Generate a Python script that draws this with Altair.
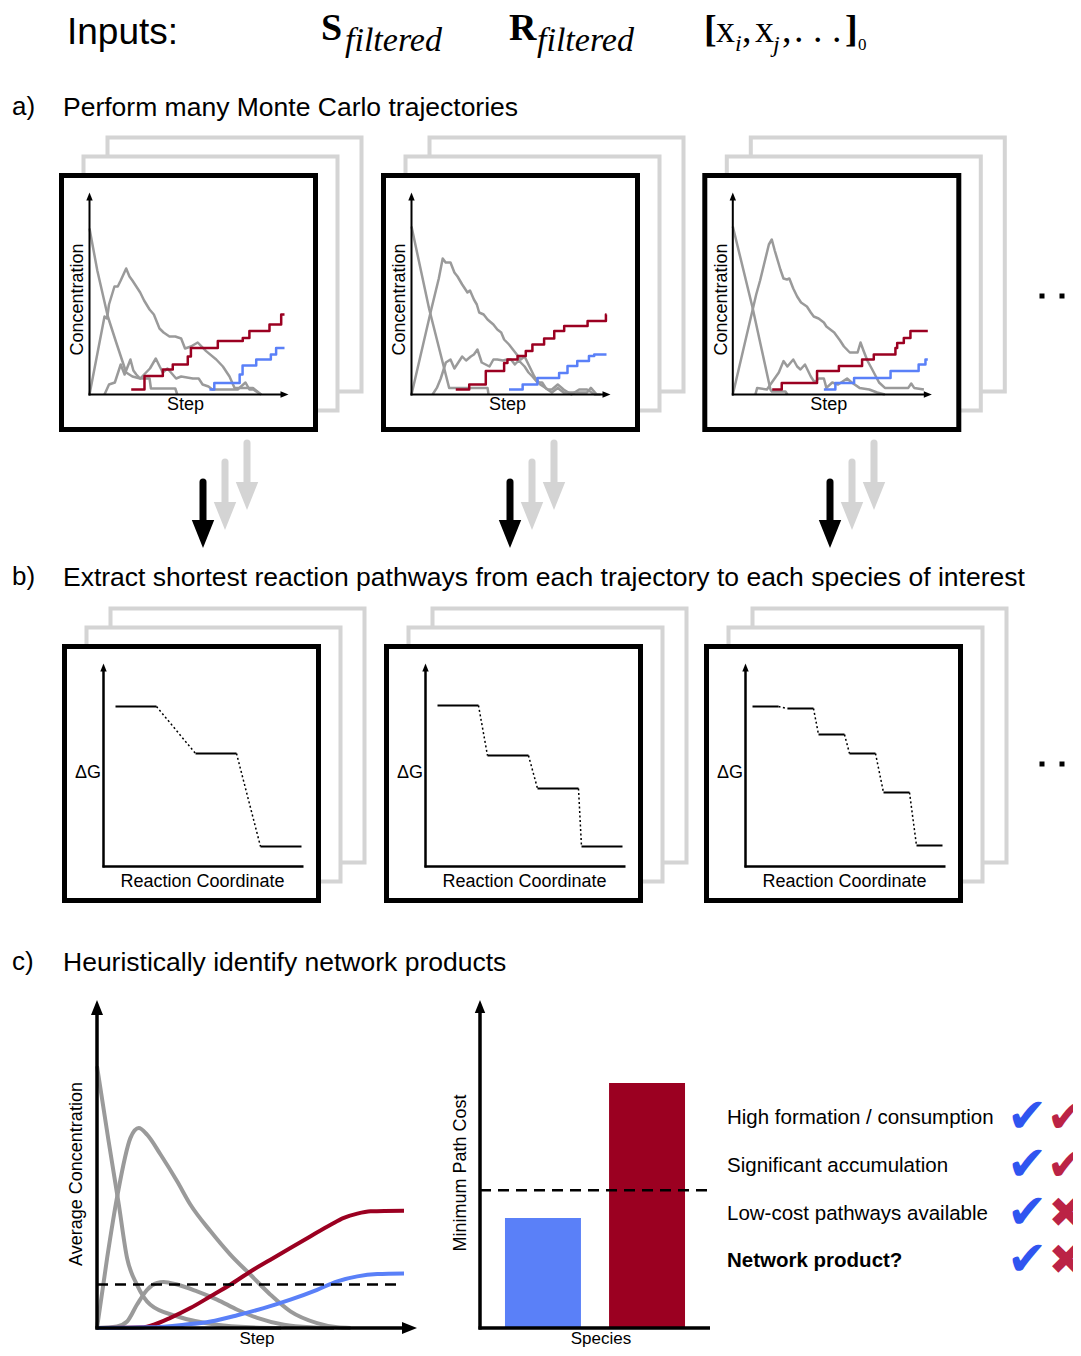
import altair as alt
import pandas as pd

# ================= colours / fonts (style) =================
RED = "#9b0021"
BLUE = "#5a80f8"
GRAY = "#9a9a9a"
LIGHT = "#d4d4d4"
CHECK_BLUE = "#2f55f0"
CHECK_RED = "#bb2345"
SANS = "Liberation Sans"
SERIF = "Liberation Serif"
SYMBOL_FONT = "DejaVu Sans"

# ================= data =================
# a) Monte Carlo trajectories: step (0-100) vs concentration (0-100)
MC1_GRAY = {
    "A": ([0, 4, 9.4, 13.7, 18.8, 22, 26, 30.8, 31.5, 44, 45],
          [83, 62, 39, 26, 11, 9, 8, 8, 3, 3, 0]),
    "B": ([0, 7.7, 9, 10, 12.8, 14.5, 16, 18.8, 20.5, 22, 24, 26, 28, 30.8, 33, 35.9, 38, 41, 44, 47,
           49, 52, 55.5, 59.8, 65, 68.4, 71.8, 74.4, 83.8, 88],
          [0, 39, 38, 45, 54, 54, 57, 63, 59, 57, 54, 51, 47, 42.5, 40, 33, 31, 29, 29, 28,
           23, 24, 26, 21.7, 17.5, 14, 9, 3.3, 3.3, 0]),
    "C": ([7.7, 10, 13, 16, 18, 21, 22.5, 24, 26, 28, 31, 34, 36, 37.6, 40, 44.4, 47, 53, 56, 58,
           61, 63, 66, 70, 76, 80, 82, 84, 88],
          [0, 5, 6, 15, 10, 17.5, 12, 10, 8, 10, 13, 18, 14, 11, 13, 8, 9, 8, 8, 5,
           4, 2.5, 2.5, 2.5, 2.5, 6, 2.5, 2.5, 0]),
}
MC1_RED = ([21.4, 28.2, 37.6, 42.7, 50.4, 52, 65.8, 78.6, 82, 92.3, 98.3, 100],
           [2.5, 9.2, 12.5, 15, 19, 23.3, 26.7, 28.3, 31.7, 35, 40, 40])
MC1_BLUE = ([61.5, 64, 77, 78.5, 85.5, 93, 95.7, 100],
            [2.5, 5.8, 10, 14.5, 17.5, 20, 23.3, 23.3])

MC2_GRAY = {
    "A": ([0, 9, 16, 19.3, 39, 39.5], [84, 43, 16, 3.3, 3.3, 0]),
    "B": ([0, 5, 10, 14, 16, 17.5, 20, 22, 23.6, 26, 28.7, 30, 32, 33.5, 34.7, 37, 39, 42, 44, 46,
           47.5, 50, 52.6, 56, 58, 60, 63, 66, 70, 72, 75, 78, 82, 86, 90, 94, 97],
          [0, 21, 42, 58, 68, 66, 66, 61, 59, 55, 51, 52, 47.5, 45, 41, 40, 37.5, 35, 32.5, 31,
           27.5, 25, 21.7, 17.5, 19, 15, 9, 5, 2.5, 2.5, 5, 2.5, 0, 2.5, 2.5, 0, 0]),
    "C": ([10.8, 13, 15, 17.6, 20, 22, 24, 26, 28, 30.4, 32, 33.8, 35, 36, 38, 40, 42, 44, 47, 49,
           51, 53, 55, 58, 60, 62, 64.6, 67, 69, 72, 75, 78, 80, 85, 90, 92, 95],
          [0, 3.3, 8, 16, 17.5, 13, 16, 19, 17, 19, 20, 22.5, 19, 16, 15, 14, 17.5, 17.5, 17, 17.5,
           17.5, 15, 17, 14, 11, 9, 6, 6, 3, 1, 3.3, 1, 1, 1, 1, 3.3, 0]),
}
MC2_RED = ([22.7, 29.6, 38.1, 47.5, 49.2, 54.4, 58.6, 62, 68, 73.2, 78.3, 90.3, 99.7, 100],
           [2.5, 5, 11.7, 15.8, 17.5, 19.2, 21.7, 25, 28, 31.7, 34.2, 36.7, 40, 40])
MC2_BLUE = ([50, 57, 64.6, 75.7, 80, 85, 91, 93.7, 100],
            [2.5, 5, 8.3, 10.8, 14.2, 16.7, 19.2, 20, 20])

MC3_GRAY = {
    "A": ([0, 10, 19.3, 20, 27, 28], [84, 44, 2.5, 1.5, 1.5, 0]),
    "B": ([0, 6, 12, 14, 16, 18.5, 20, 21.5, 24.4, 26, 27.8, 29, 31, 33, 35, 38, 40, 41.5, 44, 46.7,
           48, 50, 52, 53.5, 55, 57, 60, 62, 64, 65.5, 67, 69, 71.5, 75, 78, 85, 90, 91.5, 93, 98],
          [0, 25, 50, 57, 65, 75, 77.5, 72, 62.5, 58, 57.5, 58, 53, 49, 46, 44, 41, 39, 38, 36,
           34, 32.5, 31, 29, 27, 24, 21, 21, 21, 26, 22, 17, 12.5, 6, 3.3, 3.3, 3.3, 5.5, 3.3, 2.5]),
    "C": ([11.6, 12.5, 17.5, 20, 23.6, 26, 28, 31, 33, 34.7, 37, 40, 42, 44, 46.7, 48, 51, 54, 58.6, 61,
           65, 70, 74, 78],
          [0, 3.3, 2.5, 6, 11, 16.7, 14, 17.5, 14, 12.5, 15, 9, 6, 8, 8, 3.3, 6, 5, 8, 6,
           3.3, 2.5, 1, 0]),
}
MC3_RED = ([20.2, 25.1, 43.2, 54.4, 66.3, 72.3, 83.4, 84.3, 87.7, 91.1, 100],
           [2.5, 5.8, 11.7, 14.2, 17.5, 20, 23.3, 25.8, 28.3, 31.7, 31.7])
MC3_BLUE = ([46.7, 52.6, 62.2, 80.9, 95.3, 98.8, 100],
            [2.5, 5.8, 8.3, 11.7, 15, 17.5, 17.5])

# b) shortest pathways: reaction-coordinate start of each level and its ΔG
PATH1_RC = [12, 92, 157]
PATH1_DG = [160, 113, 20]
PATH2_RC = [12, 62, 112, 156]
PATH2_DG = [161, 111, 78, 20]
PATH3_RC = [7, 42, 73, 104, 138, 171]
PATH3_DG = [160, 158, 132, 113, 74, 21]
PATH_LEVEL_LEN = [41, 41, 26]

# c) average concentration vs step
AVG_GRAY = {
    "A": ([0, 3.8, 7.1, 9.8, 13, 17.4, 26, 39, 50, 60],
          [80.1, 57.1, 37.8, 21.4, 13.3, 7.1, 3.6, 1.0, 0.2, 0]),
    "B": ([0, 3.3, 6.5, 10.9, 13.6, 16.3, 20.7, 26.1, 30.4, 37, 43.5, 50, 56.5, 63, 71.7, 78.3, 82.6],
          [0, 21.4, 39.8, 58.2, 61.2, 59.2, 53.1, 44.9, 37.8, 29.6, 22.4, 16.3, 10.2, 5.1, 1.5, 0.2, 0]),
    "C": ([0, 6.5, 9.8, 13, 16.3, 19.6, 21.7, 26.1, 32.6, 39.1, 45.7, 52.2, 60.9, 69.6, 77.2],
          [0, 0.5, 2.0, 7.1, 11.7, 13.8, 14.1, 13.3, 11.2, 8.7, 5.6, 3.1, 1.0, 0.2, 0]),
}
AVG_RED = ([0, 15.2, 18.5, 23.9, 30.4, 37, 43.5, 50, 56.5, 63, 69.6, 76.1, 80.4, 84.8, 89.1, 100],
           [0, 0.2, 1.0, 3.1, 6.1, 9.7, 13.3, 17.3, 20.9, 24.5, 28.1, 31.6, 33.7, 35.0, 35.7, 35.9])
AVG_BLUE = ([0, 17.4, 28.3, 37, 45.7, 54.3, 63, 71.7, 78.3, 84.8, 91.3, 100],
            [0, 0.2, 1.0, 2.0, 3.9, 6.1, 8.7, 11.7, 14.3, 15.8, 16.5, 16.7])
CONC_THRESHOLD = 13.3

SPECIES = ["blue species", "red species"]
MIN_PATH_COST = [33.7, 75.0]
COST_THRESHOLD = 42.2

CRITERIA = ["High formation / consumption", "Significant accumulation",
            "Low-cost pathways available", "Network product?"]
VERDICT_BLUE = ["✔", "✔", "✔", "✔"]
VERDICT_RED = ["✔", "✔", "✖", "✖"]

TITLES = ["Perform many Monte Carlo trajectories",
          "Extract shortest reaction pathways from each trajectory to each species of interest",
          "Heuristically identify network products"]
TITLE_TAGS = ["a)", "b)", "c)"]

# ================= layout (page pixels) =================
M = 8
CW, CH = 1065, 1340
A_FRONT = [(61.5, 175.5), (383.5, 175.5), (704.8, 175.5)]
B_FRONT = [(64.5, 646.5), (386.5, 646.5), (706.5, 646.5)]
FRAME = 254
MID_OFF = (22, -19)
BACK_OFF = (46, -38)
A_ORIGIN = (28, 219)
A_SPAN = (195, 200)
A_TIP = (227, 17)
B_ORIGIN = (39, 220)
B_TIP_Y = 17
B_XEND = 239
C1_ORIGIN = (97, 1328)
C1_SPAN = (307, 326.7)
C1_TIP = (417, 1000)
C2_ORIGIN = (480, 1328)
C2_XEND = 710
C2_TIP_Y = 1000
DROP_X = [203, 510, 830]
DOT_X = [1042, 1062, 1078]
DOT_Y = [296, 764]
TITLE_Y = [108, 578, 963]
ROW_Y = [1118, 1166, 1214, 1261]
CHECK_X = (1027, 1066)
CRIT_X = 727
BOTTOM_BASELINE = 1344
ROT_SHIFT = 0.08   # fraction of font size to nudge rotated labels right

UP = "M0,-1L0.8,1L-0.8,1Z"
RIGHT = "M1,0L-1,0.8L-1,-0.8Z"
DOWN = "M-0.8,-1L0.8,-1L0,1Z"


def lin(d0, d1, p0, p1):
    return alt.Scale(domain=[d0, d1], range=[p0 - M, p1 - M], nice=False, zero=False)


def cx(f):
    return alt.X(f"{f}:Q", scale=lin(0, 1081, 0, 1081), axis=None)


def cy(f):
    return alt.Y(f"{f}:Q", scale=lin(0, 1356, 0, 1356), axis=None)


def rect_layer(rows, stroke, width):
    return alt.Chart(pd.DataFrame(rows)).mark_rect(fill="white", stroke=stroke, strokeWidth=width).encode(
        x=cx("x"), x2=alt.X2("x2"), y=cy("y"), y2=alt.Y2("y2"))


def rule_layer(rows, color, width, dash=None, cap="butt"):
    kw = dict(color=color, strokeWidth=width, strokeCap=cap)
    if dash:
        kw["strokeDash"] = dash
    return alt.Chart(pd.DataFrame(rows)).mark_rule(**kw).encode(
        x=cx("x"), y=cy("y"), x2=alt.X2("x2"), y2=alt.Y2("y2"))


def head_layer(rows, color, shape, size):
    return alt.Chart(pd.DataFrame(rows)).mark_point(
        shape=shape, size=size, filled=True, color=color, opacity=1, strokeWidth=0
    ).encode(x=cx("x"), y=cy("y"))


def series_frame(named):
    rows = []
    for name, (xs, ys) in named.items():
        assert len(xs) == len(ys), name
        for i, (a, b) in enumerate(zip(xs, ys)):
            rows.append({"sid": name, "i": i, "u": a, "v": b})
    return pd.DataFrame(rows)


def line_layer(df, xs, ys, color=None, width=2.5, interp="linear"):
    mk = dict(strokeWidth=width, interpolate=interp, strokeJoin="round")
    enc = dict(x=alt.X("u:Q", scale=xs, axis=None), y=alt.Y("v:Q", scale=ys, axis=None),
               detail="sid:N", order="i:Q")
    if color:
        mk["color"] = color
    else:
        enc["color"] = alt.Color("col:N", scale=None)
    return alt.Chart(df).mark_line(**mk).encode(**enc)


def products(red, blue):
    df = series_frame({"red": red, "blue": blue})
    df["col"] = df["sid"].map({"red": RED, "blue": BLUE})
    return df


def text_layer(rows, font, weight="normal", style="normal", align="left", baseline="middle"):
    df = pd.DataFrame(rows, columns=["t", "x", "y", "fs", "ang", "col"])
    df["x"] = df["x"] + (ROT_SHIFT * df["fs"]).where(df["ang"] != 0, 0)
    return alt.Chart(df).mark_text(font=font, fontWeight=weight, fontStyle=style,
                                   align=align, baseline=baseline).encode(
        x=cx("x"), y=cy("y"), text=alt.Text("t:N"),
        size=alt.Size("fs:Q", scale=None), angle=alt.Angle("ang:Q", scale=None),
        color=alt.Color("col:N", scale=None))


L = []

# ---------- stacked frames ----------
gray_rows, front_rows = [], []
for off in (BACK_OFF, MID_OFF):
    for fx, fy in A_FRONT + B_FRONT:
        gray_rows.append(dict(x=fx + off[0], y=fy + off[1], x2=fx + off[0] + FRAME, y2=fy + off[1] + FRAME))
for fx, fy in A_FRONT + B_FRONT:
    front_rows.append(dict(x=fx, y=fy, x2=fx + FRAME, y2=fy + FRAME))
L.append(rect_layer(gray_rows, LIGHT, 4))
L.append(rect_layer(front_rows, "black", 5))

# ---------- big down arrows ----------
g_shaft, g_head, k_shaft, k_head = [], [], [], []
for x in DROP_X:
    g_shaft += [dict(x=x + 44, y=443, x2=x + 44, y2=484), dict(x=x + 22, y=462, x2=x + 22, y2=503)]
    g_head += [dict(x=x + 44, y=496), dict(x=x + 22, y=516)]
    k_shaft.append(dict(x=x, y=482, x2=x, y2=522))
    k_head.append(dict(x=x, y=534))
L.append(rule_layer(g_shaft, LIGHT, 7, cap="round"))
L.append(head_layer(g_head, LIGHT, DOWN, 784))
L.append(rule_layer(k_shaft, "black", 7, cap="round"))
L.append(head_layer(k_head, "black", DOWN, 784))

# ---------- ellipsis dots ----------
L.append(alt.Chart(pd.DataFrame([dict(x=x, y=y) for y in DOT_Y for x in DOT_X])).mark_point(
    shape="square", size=25, filled=True, color="black", opacity=1, strokeWidth=0
).encode(x=cx("x"), y=cy("y")))

# ---------- a) trajectory panels ----------
MC_PANELS = [(MC1_GRAY, MC1_RED, MC1_BLUE), (MC2_GRAY, MC2_RED, MC2_BLUE), (MC3_GRAY, MC3_RED, MC3_BLUE)]
a_rules, a_up, a_right = [], [], []
for (fx, fy), (grays, red, blue) in zip(A_FRONT, MC_PANELS):
    ox, oy = fx + A_ORIGIN[0], fy + A_ORIGIN[1]
    xs = lin(0, 100, ox, ox + A_SPAN[0])
    ys = lin(0, 100, oy, oy - A_SPAN[1])
    L.append(line_layer(series_frame(grays), xs, ys, color=GRAY, width=2.5))
    L.append(line_layer(products(red, blue), xs, ys, width=2.5, interp="step-after"))
    a_rules += [dict(x=ox, y=oy + 1, x2=ox, y2=fy + A_TIP[1] + 4),
                dict(x=ox - 1, y=oy, x2=fx + A_TIP[0] - 4, y2=oy)]
    a_up.append(dict(x=ox, y=fy + A_TIP[1] + 4))
    a_right.append(dict(x=fx + A_TIP[0] - 4, y=oy))
L.append(rule_layer(a_rules, "black", 2))
L.append(head_layer(a_up, "black", UP, 64))
L.append(head_layer(a_right, "black", RIGHT, 64))

# ---------- b) pathway panels ----------
b_rules, b_up = [], []
for (fx, fy), rc, dg, w in zip(B_FRONT, [PATH1_RC, PATH2_RC, PATH3_RC],
                               [PATH1_DG, PATH2_DG, PATH3_DG], PATH_LEVEL_LEN):
    ox, oy = fx + B_ORIGIN[0], fy + B_ORIGIN[1]
    xs = lin(0, 200, ox, ox + 200)
    ys = lin(0, 200, oy, oy - 200)
    lv = pd.DataFrame({"r0": rc, "r1": [r + w for r in rc], "g": dg})
    L.append(alt.Chart(lv).mark_rule(color="black", strokeWidth=2).encode(
        x=alt.X("r0:Q", scale=xs, axis=None), x2=alt.X2("r1"), y=alt.Y("g:Q", scale=ys, axis=None)))
    cn = pd.DataFrame({"r0": [r + w for r in rc[:-1]], "g0": dg[:-1], "r1": rc[1:], "g1": dg[1:]})
    L.append(alt.Chart(cn).mark_rule(color="black", strokeWidth=1.5, strokeDash=[2, 2.5]).encode(
        x=alt.X("r0:Q", scale=xs, axis=None), y=alt.Y("g0:Q", scale=ys, axis=None),
        x2=alt.X2("r1"), y2=alt.Y2("g1")))
    b_rules += [dict(x=ox, y=oy + 1, x2=ox, y2=fy + B_TIP_Y + 4),
                dict(x=ox - 1, y=oy, x2=fx + B_XEND, y2=oy)]
    b_up.append(dict(x=ox, y=fy + B_TIP_Y + 4))
L.append(rule_layer(b_rules, "black", 2.5))
L.append(head_layer(b_up, "black", UP, 64))

# ---------- c) average concentration ----------
xs = lin(0, 100, C1_ORIGIN[0], C1_ORIGIN[0] + C1_SPAN[0])
ys = lin(0, 100, C1_ORIGIN[1], C1_ORIGIN[1] - C1_SPAN[1])
L.append(line_layer(series_frame(AVG_GRAY), xs, ys, color=GRAY, width=4, interp="monotone"))
L.append(line_layer(products(AVG_RED, AVG_BLUE), xs, ys, width=4, interp="monotone"))
thr = pd.DataFrame({"u0": [0], "u1": [99.5], "v": [CONC_THRESHOLD]})
L.append(alt.Chart(thr).mark_rule(color="black", strokeWidth=2.5, strokeDash=[11, 7]).encode(
    x=alt.X("u0:Q", scale=xs, axis=None), x2=alt.X2("u1"), y=alt.Y("v:Q", scale=ys, axis=None)))

# ---------- c) minimum path cost bars ----------
band = alt.Scale(type="band", domain=SPECIES, range=[C2_ORIGIN[0] - M, C2_XEND - M],
                 paddingInner=0.27, paddingOuter=0.24)
bary = lin(0, 100, C2_ORIGIN[1], C2_ORIGIN[1] - C1_SPAN[1])
bars = pd.DataFrame({"species": SPECIES, "cost": MIN_PATH_COST, "col": [BLUE, RED]})
L.append(alt.Chart(bars).mark_bar().encode(
    x=alt.X("species:N", scale=band, axis=None),
    y=alt.Y("cost:Q", scale=bary, axis=None, stack=None),
    color=alt.Color("col:N", scale=None)))
cthr = pd.DataFrame({"x0": [C2_ORIGIN[0]], "x1": [C2_XEND + 2], "cost": [COST_THRESHOLD]})
L.append(alt.Chart(cthr).mark_rule(color="black", strokeWidth=2.5, strokeDash=[11, 7]).encode(
    x=cx("x0"), x2=alt.X2("x1"), y=alt.Y("cost:Q", scale=bary, axis=None)))

# c axes
c_rules = [dict(x=C1_ORIGIN[0], y=C1_ORIGIN[1] + 1.5, x2=C1_ORIGIN[0], y2=C1_TIP[1] + 8),
           dict(x=C1_ORIGIN[0] - 1.5, y=C1_ORIGIN[1], x2=C1_TIP[0] - 8, y2=C1_ORIGIN[1]),
           dict(x=C2_ORIGIN[0], y=C2_ORIGIN[1] + 1.5, x2=C2_ORIGIN[0], y2=C2_TIP_Y + 7),
           dict(x=C2_ORIGIN[0] - 1.5, y=C2_ORIGIN[1], x2=C2_XEND, y2=C2_ORIGIN[1])]
L.append(rule_layer(c_rules, "black", 3.5))
L.append(head_layer([dict(x=C1_ORIGIN[0], y=C1_TIP[1] + 7.5)], "black", UP, 225))
L.append(head_layer([dict(x=C1_TIP[0] - 7.5, y=C1_ORIGIN[1])], "black", RIGHT, 225))
L.append(head_layer([dict(x=C2_ORIGIN[0], y=C2_TIP_Y + 6.5)], "black", UP, 169))

# ---------- texts ----------
left_rows = [("Inputs:", 67, 33, 37, 0, "black")]
for tag, title, ty in zip(TITLE_TAGS, TITLES, TITLE_Y):
    left_rows.append((tag, 12, ty - 1, 26, 0, "black"))
    left_rows.append((title, 63, ty, 26.5, 0, "black"))
for crit, ry in zip(CRITERIA[:3], ROW_Y[:3]):
    left_rows.append((crit, CRIT_X, ry, 20.5, 0, "black"))
L.append(text_layer(left_rows, SANS))
L.append(text_layer([(CRITERIA[3], CRIT_X, ROW_Y[3], 20.5, 0, "black")], SANS, weight="bold"))

center_rows = []
for fx, fy in A_FRONT:
    center_rows.append(("Concentration", fx + 15.5, fy + 124, 18, 270, "black"))
    center_rows.append(("Step", fx + 124, fy + 229.5, 18, 0, "black"))
for fx, fy in B_FRONT:
    center_rows.append(("ΔG", fx + 23.5, fy + 126.5, 18, 0, "black"))
    center_rows.append(("Reaction Coordinate", fx + 138, fy + 235.5, 18, 0, "black"))
center_rows += [("Average Concentration", 76, 1174, 18, 270, "black"),
                ("Minimum Path Cost", 460, 1173, 18, 270, "black")]
L.append(text_layer(center_rows, SANS, align="center"))
L.append(text_layer([("Step", 257, BOTTOM_BASELINE, 17, 0, "black"),
                     ("Species", 601, BOTTOM_BASELINE, 17, 0, "black")],
                    SANS, align="center", baseline="alphabetic"))

# header formulas (serif)
L.append(text_layer([("S", 321, 40, 38, 0, "black"), ("R", 509, 40, 38, 0, "black"),
                     ("[", 704, 42, 38, 0, "black"), ("]", 845, 42, 38, 0, "black")],
                    SERIF, weight="bold", baseline="alphabetic"))
L.append(text_layer([("filtered", 345, 51, 34, 0, "black"), ("filtered", 537, 51, 34, 0, "black"),
                     ("i", 735, 51, 24, 0, "black"), ("j", 773, 52, 24, 0, "black")],
                    SERIF, style="italic", baseline="alphabetic"))
L.append(text_layer([("x", 716, 42, 38, 0, "black"), (",", 742, 42, 38, 0, "black"),
                     ("x", 755, 42, 38, 0, "black"), (",", 782, 42, 38, 0, "black"),
                     (". . .", 794, 42, 38, 0, "black"), ("0", 858, 50, 17, 0, "black")],
                    SERIF, baseline="alphabetic"))

# verdict symbols
sym_rows = []
for b, r, ry in zip(VERDICT_BLUE, VERDICT_RED, ROW_Y):
    sym_rows.append((b, CHECK_X[0], ry, 48, 0, CHECK_BLUE))
    sym_rows.append((r, CHECK_X[1], ry, 46 if r == "✔" else 42, 0, CHECK_RED))
L.append(text_layer(sym_rows, SYMBOL_FONT, align="center"))

chart = alt.layer(*L).resolve_scale(x="independent", y="independent").properties(
    width=CW, height=CH, padding=0, autosize=alt.AutoSizeParams(type="none"), background="white"
).configure_view(stroke=None)

chart.save("out.html", embed_options={"renderer": "svg", "actions": False})
